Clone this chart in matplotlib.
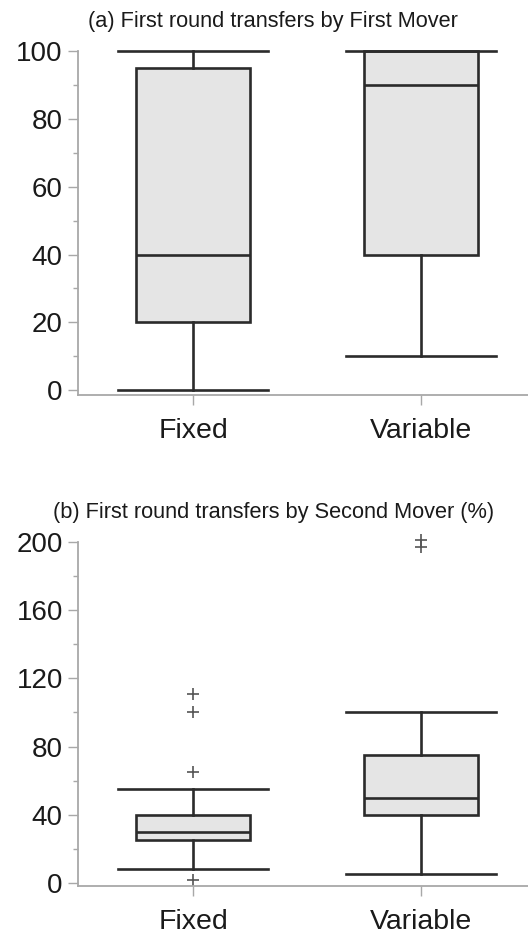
import matplotlib
matplotlib.use("Agg")
import matplotlib.pyplot as plt
from matplotlib.ticker import MultipleLocator

plt.rcParams["font.family"] = ["Liberation Sans", "DejaVu Sans"]

groups = ["Fixed", "Variable"]

# (a) first mover transfers
a_whislo = [0, 10]
a_q1 = [20, 40]
a_med = [40, 90]
a_q3 = [95, 100]
a_whishi = [100, 100]
a_fliers = [[], []]

# (b) second mover transfers (%)
b_whislo = [8, 5]
b_q1 = [25, 40]
b_med = [30, 50]
b_q3 = [40, 75]
b_whishi = [55, 100]
b_fliers = [[2, 65, 100, 111], [197, 201]]

titles = ["(a) First round transfers by First Mover",
          "(b) First round transfers by Second Mover (%)"]

line_col = "#2b2b2b"
fill_col = "#e5e5e5"
axis_col = "#a8a8a8"
text_col = "#1a1a1a"


def make_stats(lo, q1, med, q3, hi, fl):
    stats = []
    for i in range(len(groups)):
        stats.append(dict(label=groups[i], whislo=lo[i], q1=q1[i], med=med[i],
                          q3=q3[i], whishi=hi[i], fliers=fl[i]))
    return stats


def draw(ax, stats, ymax, major, minor, ybottom):
    ax.bxp(stats, positions=[1, 2], widths=0.5, capwidths=0.66,
           patch_artist=True, showfliers=True,
           boxprops=dict(facecolor=fill_col, edgecolor=line_col, linewidth=1.9),
           medianprops=dict(color=line_col, linewidth=1.9),
           whiskerprops=dict(color=line_col, linewidth=1.9),
           capprops=dict(color=line_col, linewidth=1.9),
           flierprops=dict(marker="+", markersize=8, markeredgecolor="#555555",
                           markeredgewidth=1.2, linestyle="none"))
    for art in ax.lines + ax.patches:
        art.set_clip_on(False)
    ax.set_xlim(0.494, 2.47)
    ax.set_ylim(ybottom, ymax)
    ax.yaxis.set_major_locator(MultipleLocator(major))
    ax.yaxis.set_minor_locator(MultipleLocator(minor))
    for s in ["top", "right"]:
        ax.spines[s].set_visible(False)
    for s in ["left", "bottom"]:
        ax.spines[s].set_color(axis_col)
        ax.spines[s].set_linewidth(1.3)
    ax.tick_params(axis="y", which="major", length=7, width=1, color=axis_col,
                   labelsize=20, labelcolor=text_col, pad=4)
    ax.tick_params(axis="y", which="minor", length=3.5, width=1, color=axis_col)
    ax.tick_params(axis="x", length=7, width=1, color=axis_col,
                   labelsize=20.5, labelcolor=text_col, pad=9.5)


fig = plt.figure(figsize=(5.28, 9.34), dpi=100)

ax1 = fig.add_axes([0.148, 0.577, 0.852, 0.368])
draw(ax1, make_stats(a_whislo, a_q1, a_med, a_q3, a_whishi, a_fliers), 100, 20, 10, -1.5)

ax2 = fig.add_axes([0.148, 0.0514, 0.852, 0.3683])
draw(ax2, make_stats(b_whislo, b_q1, b_med, b_q3, b_whishi, b_fliers), 200, 40, 20, -1.8)

fig.text(0.517, 0.977, titles[0], ha="center", va="center", fontsize=15.7, color=text_col)
fig.text(0.519, 0.451, titles[1], ha="center", va="center", fontsize=15.7, color=text_col)

fig.savefig("out.png", dpi=100)
